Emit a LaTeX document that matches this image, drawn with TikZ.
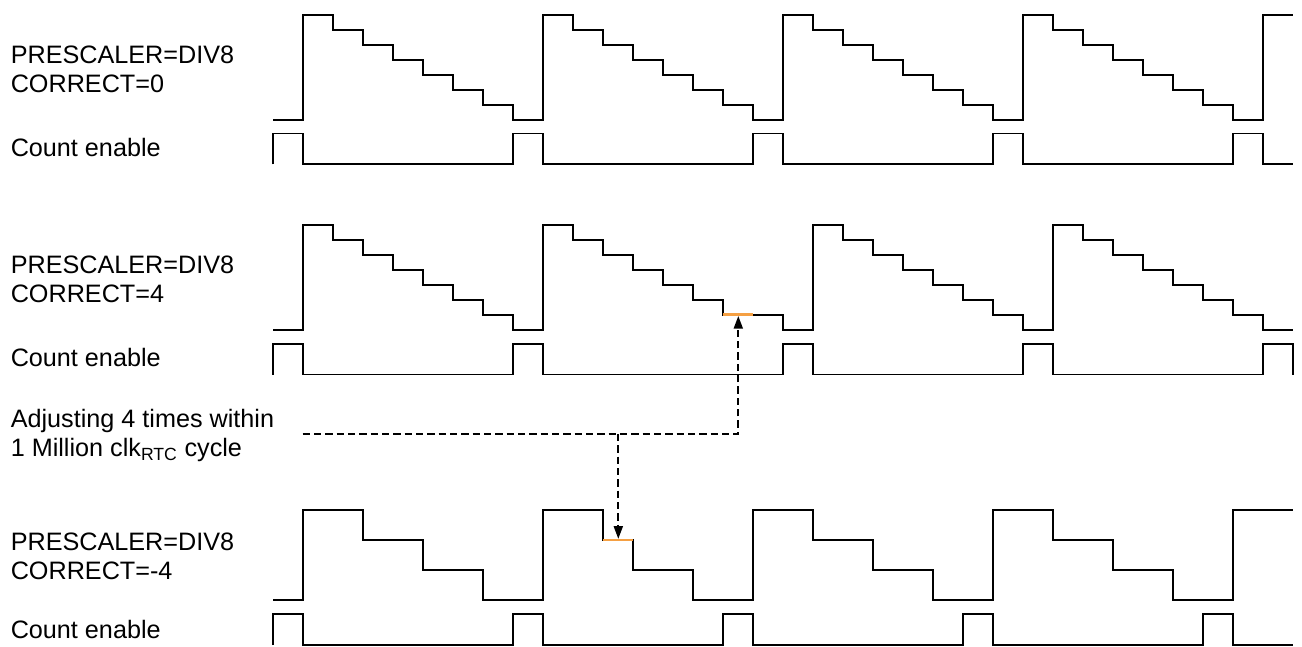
\documentclass[tikz,border=0pt]{standalone}
\usepackage{fontspec}
\setmainfont{Liberation Sans}
\usetikzlibrary{arrows.meta}
\definecolor{adjorange}{HTML}{F5A043}
\tikzset{
  wave/.style={draw=black, line width=1.3pt, line join=miter},
  adjust/.style={draw=adjorange, line width=1.9pt},
  dashline/.style={draw=black, line width=1.3pt, dash pattern=on 5.5pt off 3pt, -{Triangle[length=9.5pt,width=6.8pt]}},
  lbl/.style={anchor=base west, inner sep=0pt, font=\fontsize{18.9pt}{21.75pt}\selectfont, align=left},
  stairA/.style={insert path={-- ++(0,-105) -- ++(30,0) -- ++(0,15) -- ++(30,0) -- ++(0,15) -- ++(30,0) -- ++(0,15) -- ++(30,0) -- ++(0,15) -- ++(30,0) -- ++(0,15) -- ++(30,0) -- ++(0,15) -- ++(30,0) -- ++(0,15) -- ++(30,0)}},
  stairC/.style={insert path={-- ++(0,-90) -- ++(60,0) -- ++(0,30) -- ++(60,0) -- ++(0,30) -- ++(60,0) -- ++(0,30) -- ++(60,0)}},
  pulseA/.style={insert path={-- ++(0,-30.7) -- ++(30,0) -- ++(0,30.7)}}
}
\begin{document}
\begin{tikzpicture}[x=0.75pt, y=-0.75pt]
\useasboundingbox (0,0) rectangle (1302,646);

% ---------- labels ----------
\node[lbl] (p1) at (10.5,63.3) {PRESCALER=DIV8};
\node[lbl] (c1) at (10.5,92.3) {CORRECT=0};
\node[lbl] (e1) at (10.5,156.7) {Count enable};
\node[lbl] (p2) at (10.5,273.2) {PRESCALER=DIV8};
\node[lbl] (c2) at (10.5,302.2) {CORRECT=4};
\node[lbl] (e2) at (10.5,366.8) {Count enable};
\node[lbl] (a1) at (10.5,427) {Adjusting 4 times within};
\node[lbl] (a2) at (10.5,456.5) {1 Million clk\textsubscript{RTC} cycle};
\node[lbl] (p3) at (10.5,550.5) {PRESCALER=DIV8};
\node[lbl] (c3) at (10.5,579.5) {CORRECT=-4};
\node[lbl] (e3) at (10.5,638.3) {Count enable};

% ---------- row 1: CORRECT=0 ----------
\draw[wave] (273.3,119.7) -- (303.3,119.7) [stairA] [stairA] [stairA] [stairA] -- ++(0,-105) -- ++(30,0);
\draw[wave] (273.3,164.3) [pulseA] -- (513.3,164.3) [pulseA] -- (753.3,164.3) [pulseA] -- (993.3,164.3) [pulseA] -- (1233.3,164.3) [pulseA] -- (1293.3,164.3);

% ---------- row 2: CORRECT=4 ----------
\draw[wave] (273.3,329.7) -- (303.3,329.7) [stairA]
  -- ++(0,-105) -- ++(30,0) -- ++(0,15) -- ++(30,0) -- ++(0,15) -- ++(30,0) -- ++(0,15) -- ++(30,0) -- ++(0,15) -- ++(30,0) -- ++(0,15) -- ++(30,0) -- ++(0,15) -- ++(60,0) -- ++(0,15) -- ++(30,0)
  [stairA] [stairA];
\draw[adjust] (723.3,314.7) -- (753.3,314.7);
\draw[wave] (273.3,374.5) [pulseA] -- (513.3,374.5) [pulseA] -- (783.3,374.5) [pulseA] -- (1023.3,374.5) [pulseA] -- (1263.3,374.5) [pulseA];

% ---------- row 3: CORRECT=-4 ----------
\draw[wave] (273.3,600) -- (303.3,600) [stairC]
  -- ++(0,-90) -- ++(60,0) -- ++(0,30) -- ++(30,0) -- ++(0,30) -- ++(60,0) -- ++(0,30) -- ++(60,0)
  [stairC] [stairC] -- ++(0,-90) -- ++(60,0);
\draw[adjust] (603.3,540) -- (633.3,540);
\draw[wave] (273.3,645) [pulseA] -- (513.3,645) [pulseA] -- (723.3,645) [pulseA] -- (963.3,645) [pulseA] -- (1203.3,645) [pulseA] -- (1293.3,645);

% ---------- adjustment arrows ----------
\coordinate (dstart) at (302.7,434);
\coordinate (tgt2) at (738.3,316);
\coordinate (junc) at (618.3,434);
\coordinate (tgt3) at (618.3,538.8);
\draw[dashline] (dstart) -| (tgt2);
\draw[dashline] (junc) -- (tgt3);
\end{tikzpicture}
\end{document}
